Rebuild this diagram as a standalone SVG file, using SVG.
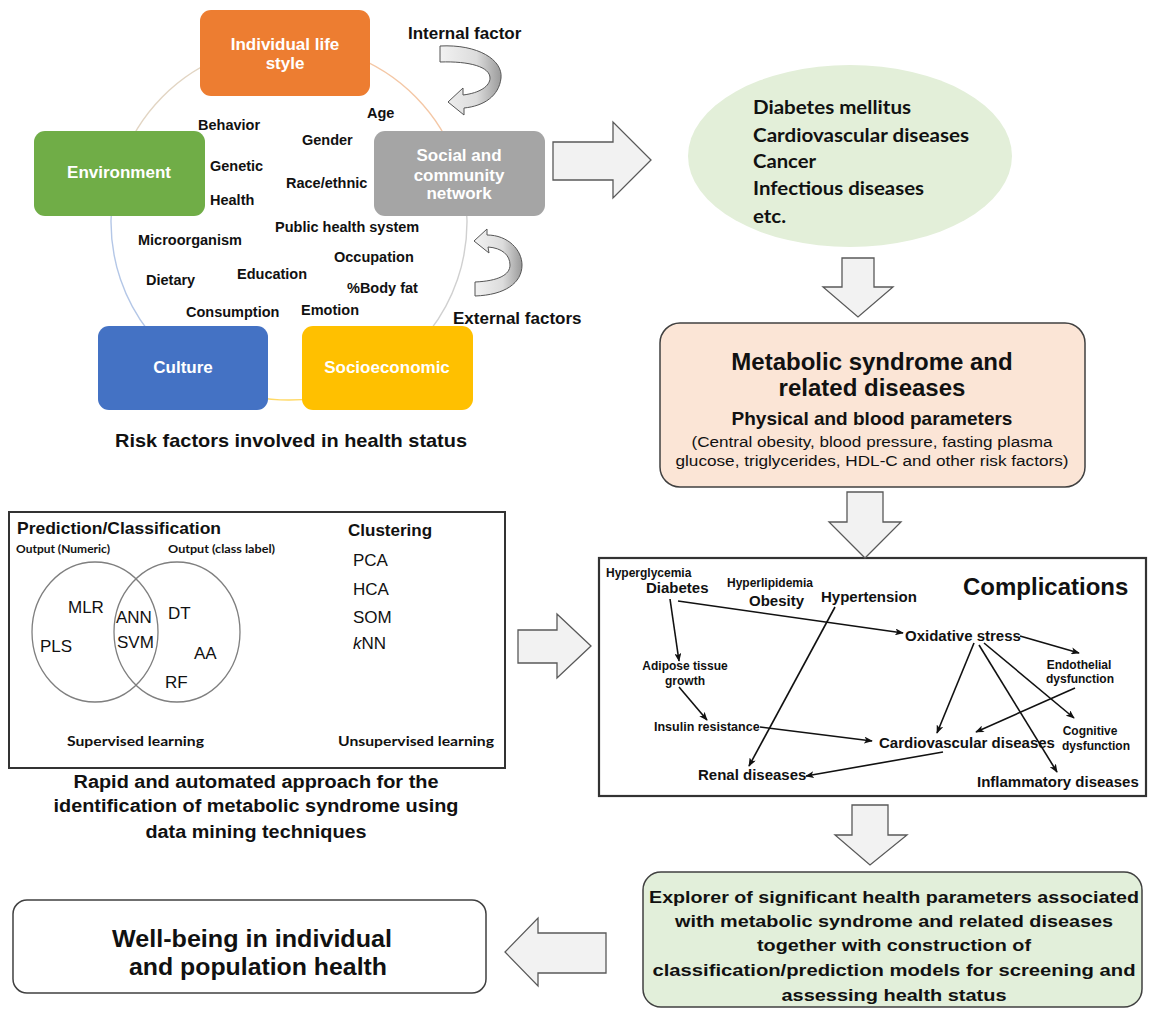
<svg xmlns="http://www.w3.org/2000/svg" width="1155" height="1013" viewBox="0 0 1155 1013">
<defs>
<style>
text{font-family:"Liberation Sans",Arial,sans-serif;fill:#111}
.b{font-weight:bold}
.w{fill:#fff;font-weight:bold;font-size:17px;text-anchor:middle}
.f{font-weight:bold;font-size:14.5px}
.c{font-family:Lato,"Liberation Sans",sans-serif;font-weight:bold}
.mid{text-anchor:middle}
.blk{fill:#f2f2f2;stroke:#595959;stroke-width:1.3}
.con{fill:none;stroke:#111;stroke-width:1.6}
.ven{fill:none;stroke:#7f7f7f;stroke-width:1.3}
</style>
<marker id="ah" viewBox="0 0 10 8" refX="9" refY="4" markerWidth="9" markerHeight="7" markerUnits="userSpaceOnUse" orient="auto">
<path d="M0,0 L10,4 L0,8 L2.5,4 z" fill="#111"/>
</marker>
<linearGradient id="cg" x1="0" y1="0" x2="1" y2="0">
<stop offset="0" stop-color="#f2f2f2"/>
<stop offset="0.6" stop-color="#dcdcdc"/>
<stop offset="1" stop-color="#9a9a9a"/>
</linearGradient>
</defs>
<rect width="1155" height="1013" fill="#fff"/>

<g id="ring" fill="none" stroke-width="1.4">
<path d="M120.4,165 A178,178 0 0 1 229,54.4" stroke="#e2d5c3"/>
<path d="M349,54.4 A178,178 0 0 1 457.6,165" stroke="#f4c7a5"/>
<path d="M457.6,165 A178,178 0 0 1 388,370" stroke="#d0d0d0"/>
<path d="M388,370 A178,178 0 0 1 190,370" stroke="#ffd966"/>
<path d="M190,370 A178,178 0 0 1 120.4,165" stroke="#b4c7e7"/>
</g>

<g id="n-lifestyle"><rect x="200" y="10" width="170" height="86" rx="11" fill="#ed7d31"/>
<text class="w" x="285" y="50">Individual life</text><text class="w" x="285" y="69">style</text></g>
<g id="n-environment"><rect x="34" y="131" width="171" height="85" rx="11" fill="#70ad47"/>
<text class="w" x="119" y="178">Environment</text></g>
<g id="n-social"><rect x="374" y="131" width="171" height="85" rx="11" fill="#a5a5a5"/>
<text class="w" x="459" y="161">Social and</text><text class="w" x="459" y="181">community</text><text class="w" x="459" y="199">network</text></g>
<g id="n-culture"><rect x="98" y="326" width="170" height="84" rx="11" fill="#4472c4"/>
<text class="w" x="183" y="373">Culture</text></g>
<g id="n-socioeconomic"><rect x="302" y="326" width="171" height="84" rx="11" fill="#ffc000"/>
<text class="w" x="387" y="373">Socioeconomic</text></g>

<g id="factors">
<text class="f" x="198" y="130">Behavior</text>
<text class="f" x="367" y="118">Age</text>
<text class="f" x="302" y="145">Gender</text>
<text class="f" x="210" y="171">Genetic</text>
<text class="f" x="286" y="188">Race/ethnic</text>
<text class="f" x="210" y="205">Health</text>
<text class="f" x="275" y="232">Public health system</text>
<text class="f" x="138" y="245">Microorganism</text>
<text class="f" x="334" y="262">Occupation</text>
<text class="f" x="146" y="285">Dietary</text>
<text class="f" x="237" y="279">Education</text>
<text class="f" x="347" y="293">%Body fat</text>
<text class="f" x="186" y="317">Consumption</text>
<text class="f" x="301" y="315">Emotion</text>
</g>

<g id="n-internal">
<text class="b" x="408" y="39" font-size="17">Internal factor</text>
<path d="M440,46 C478,44 503,60 501,78 C499,96 484,106 464,108 L464,115 L448,102 L463,88 L463,95 C480,93 490,86 490,78 C490,67 470,61 440,62 Z" fill="url(#cg)" stroke="#555" stroke-width="1"/>
</g>
<g id="n-external">
<text class="b" x="453" y="324" font-size="17">External factors</text>
<path d="M474,241 L487,229 L487,235 C508,235 522,250 522,265 C522,283 505,295 475,296 L475,282 C498,281 510,275 510,265 C510,255 502,248 488,247 L489,253 Z" fill="url(#cg)" stroke="#555" stroke-width="1"/>
</g>

<text id="cap-risk" class="b mid" x="291" y="447" font-size="19" textLength="352" lengthAdjust="spacingAndGlyphs">Risk factors involved in health status</text>

<g id="n-diseases">
<ellipse cx="850" cy="156" rx="162" ry="91" fill="#e3efd9"/>
<text class="c" font-size="19" x="753" y="114" textLength="158" lengthAdjust="spacingAndGlyphs">Diabetes mellitus</text>
<text class="c" font-size="19" x="753" y="142" textLength="216" lengthAdjust="spacingAndGlyphs">Cardiovascular diseases</text>
<text class="c" font-size="19" x="753" y="168" textLength="63" lengthAdjust="spacingAndGlyphs">Cancer</text>
<text class="c" font-size="19" x="753" y="195" textLength="171" lengthAdjust="spacingAndGlyphs">Infectious diseases</text>
<text class="c" font-size="19" x="753" y="223" textLength="33" lengthAdjust="spacingAndGlyphs">etc.</text>
</g>

<g id="n-metabolic">
<rect x="660" y="323" width="425" height="164" rx="20" fill="#fbe5d6" stroke="#404040" stroke-width="1.5"/>
<text class="b mid" x="872" y="370" font-size="24">Metabolic syndrome and</text>
<text class="b mid" x="872" y="396" font-size="24">related diseases</text>
<text class="b mid" x="872" y="425" font-size="19">Physical and blood parameters</text>
<text class="mid" x="872" y="447" font-size="15.5" textLength="361" lengthAdjust="spacingAndGlyphs">(Central obesity, blood pressure, fasting plasma</text>
<text class="mid" x="872" y="466" font-size="15.5" textLength="393" lengthAdjust="spacingAndGlyphs">glucose, triglycerides, HDL-C and other risk factors)</text>
</g>

<g id="n-ml">
<rect x="9" y="512" width="496" height="256" fill="#fff" stroke="#333" stroke-width="2"/>
<text class="b" x="17" y="534" font-size="17" textLength="204" lengthAdjust="spacingAndGlyphs">Prediction/Classification</text>
<text class="c" x="16" y="553" font-size="11" textLength="94" lengthAdjust="spacingAndGlyphs">Output (Numeric)</text>
<text class="c" x="168" y="553" font-size="11" textLength="107" lengthAdjust="spacingAndGlyphs">Output (class label)</text>
<text class="b" x="348" y="536" font-size="17">Clustering</text>
<text x="353" y="566" font-size="17">PCA</text>
<text x="353" y="595" font-size="17">HCA</text>
<text x="353" y="623" font-size="17">SOM</text>
<text x="353" y="649" font-size="17"><tspan font-style="italic">k</tspan>NN</text>
<ellipse class="ven" cx="95" cy="632" rx="63" ry="70"/>
<ellipse class="ven" cx="177" cy="632" rx="63" ry="70"/>
<text x="68" y="613" font-size="17">MLR</text>
<text x="40" y="652" font-size="17">PLS</text>
<text x="116" y="623" font-size="17">ANN</text>
<text x="117" y="648" font-size="17">SVM</text>
<text x="168" y="619" font-size="17">DT</text>
<text x="194" y="659" font-size="17">AA</text>
<text x="165" y="688" font-size="17">RF</text>
<text class="c" x="67" y="746" font-size="14" textLength="137" lengthAdjust="spacingAndGlyphs">Supervised learning</text>
<text class="c" x="338" y="746" font-size="14" textLength="156" lengthAdjust="spacingAndGlyphs">Unsupervised learning</text>
</g>
<g id="cap-ml">
<text class="b mid" x="256" y="788" font-size="18" textLength="365" lengthAdjust="spacingAndGlyphs">Rapid and automated approach for the</text>
<text class="b mid" x="256" y="812" font-size="18" textLength="405" lengthAdjust="spacingAndGlyphs">identification of metabolic syndrome using</text>
<text class="b mid" x="256" y="838" font-size="18" textLength="221" lengthAdjust="spacingAndGlyphs">data mining techniques</text>
</g>

<g id="n-complications">
<rect x="599" y="558" width="547" height="238" fill="#fff" stroke="#333" stroke-width="2.2"/>
<text class="b" x="963" y="595" font-size="24">Complications</text>
<text class="b" x="606" y="577" font-size="12">Hyperglycemia</text>
<text class="b" x="646" y="593" font-size="15">Diabetes</text>
<text class="b" x="727" y="587" font-size="12">Hyperlipidemia</text>
<text class="b" x="749" y="606" font-size="15">Obesity</text>
<text class="b" x="821" y="602" font-size="15">Hypertension</text>
<text class="b" x="905" y="641" font-size="15">Oxidative stress</text>
<text class="b mid" x="685" y="670" font-size="12">Adipose tissue</text>
<text class="b mid" x="685" y="685" font-size="12">growth</text>
<text class="b mid" x="1079" y="669" font-size="12">Endothelial</text>
<text class="b mid" x="1080" y="683" font-size="12">dysfunction</text>
<text class="b" x="654" y="731" font-size="12.5">Insulin resistance</text>
<text class="b" x="879" y="748" font-size="15">Cardiovascular diseases</text>
<text class="b mid" x="1090" y="735" font-size="12">Cognitive</text>
<text class="b mid" x="1096" y="750" font-size="12">dysfunction</text>
<text class="b" x="698" y="780" font-size="15">Renal diseases</text>
<text class="b" x="977" y="787" font-size="15">Inflammatory diseases</text>
</g>

<g id="n-explorer">
<rect x="643" y="872" width="499" height="135" rx="18" fill="#e2efda" stroke="#404040" stroke-width="1.5"/>
<text class="b mid" x="894" y="903" font-size="17" textLength="490" lengthAdjust="spacingAndGlyphs">Explorer of significant health parameters associated</text>
<text class="b mid" x="894" y="927" font-size="17" textLength="438" lengthAdjust="spacingAndGlyphs">with metabolic syndrome and related diseases</text>
<text class="b mid" x="894" y="951" font-size="17" textLength="274" lengthAdjust="spacingAndGlyphs">together with construction of</text>
<text class="b mid" x="894" y="976" font-size="17" textLength="483" lengthAdjust="spacingAndGlyphs">classification/prediction models for screening and</text>
<text class="b mid" x="894" y="1001" font-size="17" textLength="225" lengthAdjust="spacingAndGlyphs">assessing health status</text>
</g>

<g id="n-wellbeing">
<rect x="13" y="900" width="473" height="93" rx="14" fill="#fff" stroke="#404040" stroke-width="1.5"/>
<text class="b mid" x="252" y="947" font-size="23" textLength="280" lengthAdjust="spacingAndGlyphs">Well-being in individual</text>
<text class="b mid" x="258" y="975" font-size="23" textLength="258" lengthAdjust="spacingAndGlyphs">and population health</text>
</g>

<g id="connectors">
<path class="blk" d="M553,142 L613,142 L613,122 L651,160 L613,198 L613,180 L553,180 Z"/>
<path class="blk" d="M842,258 L874,258 L874,287 L893,287 L858,317 L823,287 L842,287 Z"/>
<path class="blk" d="M847,492 L883,492 L883,522 L901,522 L865,558 L829,522 L847,522 Z"/>
<path class="blk" d="M518,630 L557,630 L557,614 L591,646 L557,678 L557,663 L518,663 Z"/>
<path class="blk" d="M852,805 L888,805 L888,835 L907,835 L870,865 L835,835 L852,835 Z"/>
<path class="blk" d="M606,933 L538,933 L538,918 L505,952 L538,986 L538,973 L606,973 Z"/>
<line class="con" x1="678" y1="601" x2="903" y2="633" marker-end="url(#ah)"/>
<line class="con" x1="670" y1="599" x2="679" y2="661" marker-end="url(#ah)"/>
<line class="con" x1="835" y1="607" x2="749" y2="766" marker-end="url(#ah)"/>
<line class="con" x1="1020" y1="636" x2="1079" y2="653" marker-end="url(#ah)"/>
<line class="con" x1="679" y1="687" x2="707" y2="720" marker-end="url(#ah)"/>
<line class="con" x1="760" y1="727" x2="872" y2="741" marker-end="url(#ah)"/>
<line class="con" x1="974" y1="643" x2="937" y2="733" marker-end="url(#ah)"/>
<line class="con" x1="979" y1="645" x2="1057" y2="772" marker-end="url(#ah)"/>
<line class="con" x1="984" y1="643" x2="1074" y2="718" marker-end="url(#ah)"/>
<line class="con" x1="1075" y1="688" x2="976" y2="732" marker-end="url(#ah)"/>
<line class="con" x1="943" y1="752" x2="806" y2="776" marker-end="url(#ah)"/>
</g>
</svg>
